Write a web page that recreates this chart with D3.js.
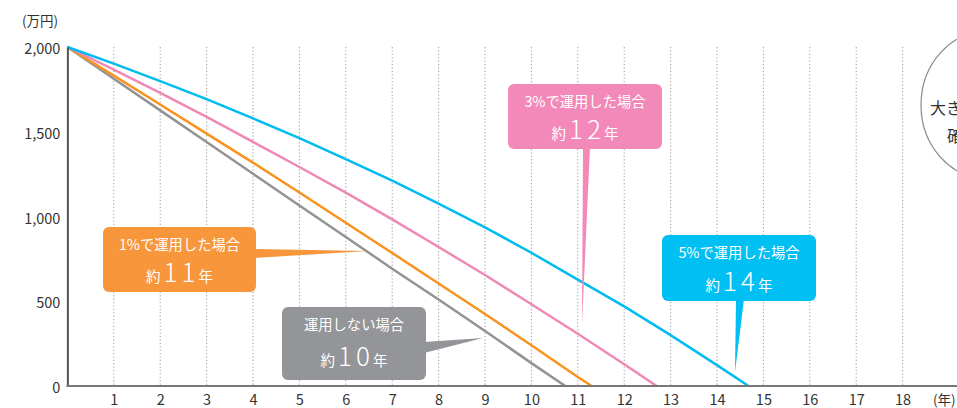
<!DOCTYPE html>
<html><head><meta charset="utf-8">
<script src="https://cdn.jsdelivr.net/npm/d3@7"></script>
<style>
html,body{margin:0;padding:0;background:#fff;overflow:hidden}
svg{display:block;font-family:"Noto Sans CJK JP","Noto Sans",sans-serif}
</style></head>
<body><svg id="c" width="957" height="408"></svg>
<script>
// ---- data ----
const xTicks = [1,2,3,4,5,6,7,8,9,10,11,12,13,14,15,16,17,18];
const yTicks = [0,500,1000,1500,2000];
const yTickLabels = ["0","500","1,000","1,500","2,000"];
const grayYears   = [0,1,2,3,4,5,6,7,8,9,10,10.73];
const grayValues  = [2000,1813,1626,1439,1252,1065,879,692,510,325,135,0];
const orangeYears = [0,1,2,3,4,5,6,7,8,9,10,11,11.3];
const orangeValues= [2000,1831,1661,1489,1318,1142,963,785,605,425,240,53,0];
const pinkYears   = [0,1,2,3,4,5,6,7,8,9,10,11,12,12.7];
const pinkValues  = [2000,1866,1729,1588,1440,1292,1141,983,820,655,482,308,128,0];
const blueYears   = [0,1,2,3,4,5,6,7,8,9,10,11,12,13,14,14.68];
const blueValues  = [2000,1902,1799,1692,1579,1463,1338,1212,1076,936,786,628,470,300,123,0];
const seriesNames = ["運用しない場合","1%で運用した場合","3%で運用した場合","5%で運用した場合"];
const seriesYears = ["10","11","12","14"];

// ---- layout ----
const svg = d3.select("#c");
const x = d3.scaleLinear().domain([0,18]).range([67.4,902.6]);
const y = d3.scaleLinear().domain([0,2000]).range([386,47]);
const colors = ["#939393","#F7931E","#F088B6","#00BCF0"];
const boxColors = ["#939598","#F7963A","#F389B8","#00BFF3"];

// grid
svg.append("g").selectAll("line").data(xTicks).join("line")
  .attr("x1",d=>x(d)).attr("x2",d=>x(d)).attr("y1",y(2000)).attr("y2",y(0))
  .attr("stroke","#9a9a9a").attr("stroke-width",1).attr("stroke-dasharray","1.2,2.2");

// right ellipse (partially visible)
svg.append("ellipse").attr("cx",988).attr("cy",105).attr("rx",67).attr("ry",74)
  .attr("fill","none").attr("stroke","#8a8a8a").attr("stroke-width",1.2);
svg.append("text").attr("x",930).attr("y",114).attr("font-size",16).attr("fill","#333").text("大きな");
svg.append("text").attr("x",947).attr("y",142).attr("font-size",16).attr("fill","#333").text("確");

// lines
const line = d3.line().x(d=>x(d[0])).y(d=>y(d[1]));
const data = [
  d3.zip(grayYears,grayValues),
  d3.zip(orangeYears,orangeValues),
  d3.zip(pinkYears,pinkValues),
  d3.zip(blueYears,blueValues)
];
svg.append("g").selectAll("path").data(data).join("path")
  .attr("d",line).attr("fill","none")
  .attr("stroke",(d,i)=>colors[i]).attr("stroke-width",2.5);

// axes
const yAxis = svg.append("g").attr("transform",`translate(${x(0)},0)`)
  .call(d3.axisLeft(y).tickValues(yTicks).tickSize(0).tickPadding(7)
        .tickFormat((d,i)=>yTickLabels[i]));
yAxis.select(".domain").attr("stroke","#555").attr("stroke-width",2);
yAxis.selectAll("text").attr("font-size",14.5).attr("fill","#333")
  .attr("font-family","'Noto Sans CJK JP',sans-serif").attr("dy","0.45em");

svg.append("line").attr("x1",x(0)-1).attr("x2",957).attr("y1",y(0)).attr("y2",y(0))
  .attr("stroke","#777").attr("stroke-width",2.2);
const xAxis = svg.append("g").attr("transform",`translate(0,${y(0)})`)
  .call(d3.axisBottom(x).tickValues(xTicks).tickSize(0).tickPadding(9).tickFormat(d3.format("d")));
xAxis.select(".domain").remove();
xAxis.selectAll("text").attr("font-size",14.5).attr("fill","#333")
  .attr("font-family","'Noto Sans CJK JP',sans-serif");

svg.append("text").attr("x",22).attr("y",26).attr("font-size",13.5).attr("fill","#333").text("(万円)");
svg.append("text").attr("x",933).attr("y",405).attr("font-size",13.5).attr("fill","#333").text("(年)");

// callouts
const callouts = [
  {i:0, box:[282,307,426,380], ptr:[[424,342],[424,353],[483,338]], t1:330, t2:366},
  {i:1, box:[103,227,256,292], ptr:[[254,249],[254,258],[368,251]], t1:250, t2:282},
  {i:2, box:[508,84,662,149], ptr:[[583,147],[590,147],[582,325]], t1:107, t2:139},
  {i:3, box:[662,235,816,301], ptr:[[736,299],[744,299],[735,372]], t1:258, t2:291}
];
callouts.forEach(c=>{
  const [x0,y0,x1,y1] = c.box, col = boxColors[c.i], cx=(x0+x1)/2;
  const g = svg.append("g");
  g.append("polygon").attr("points",c.ptr.map(p=>p.join(",")).join(" ")).attr("fill",col);
  g.append("rect").attr("x",x0).attr("y",y0).attr("width",x1-x0).attr("height",y1-y0)
    .attr("rx",6).attr("fill",col);
  g.append("text").attr("x",cx).attr("y",c.t1).attr("text-anchor","middle")
    .attr("font-size",14.3).attr("fill","#fff").text(seriesNames[c.i]);
  const t = g.append("text").attr("x",cx).attr("y",c.t2).attr("text-anchor","middle").attr("fill","#fff");
  t.append("tspan").attr("font-size",14.5).text("約");
  t.append("tspan").attr("font-size",26).attr("font-weight",300).attr("dx",3).attr("letter-spacing",4).text(seriesYears[c.i]);
  t.append("tspan").attr("font-size",14.5).attr("dx",-1).text("年");
});
</script></body></html>
